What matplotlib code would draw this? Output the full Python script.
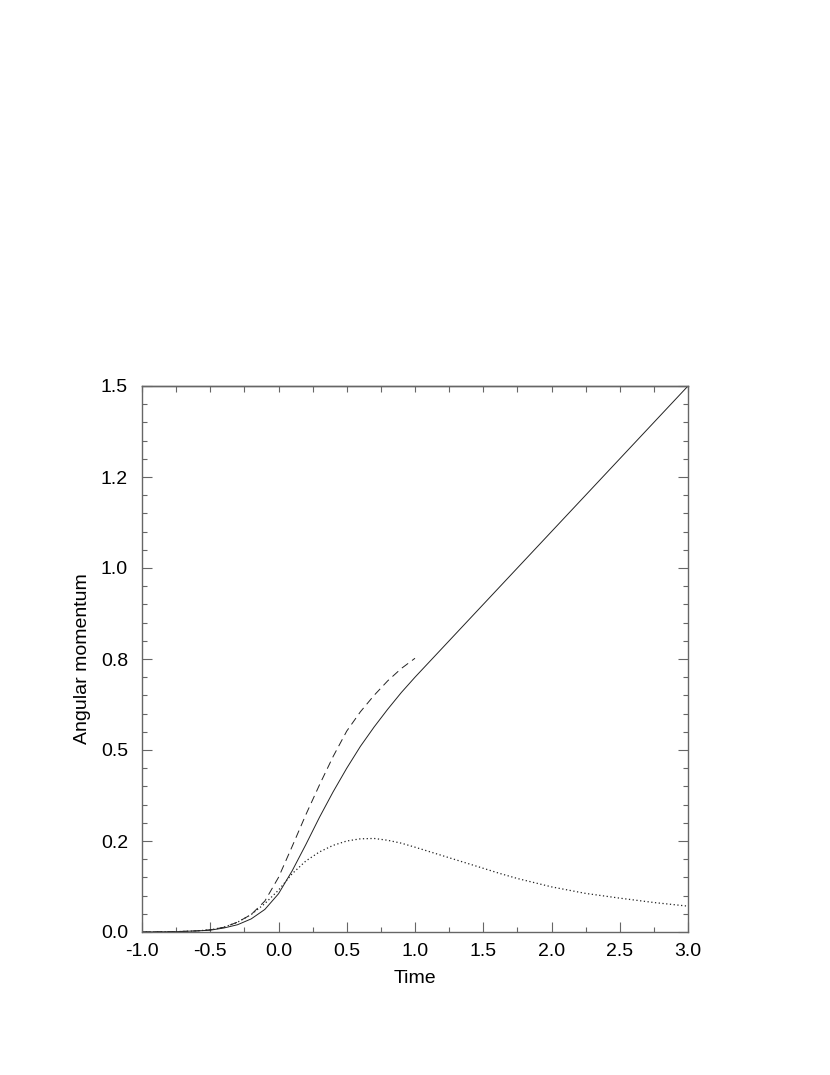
import matplotlib
matplotlib.use("Agg")
import matplotlib.pyplot as plt
from matplotlib.ticker import MultipleLocator, FormatStrFormatter

plt.rcParams['font.family'] = ['Liberation Sans', 'DejaVu Sans']

# Solid curve
t_solid = [-1.0, -0.75, -0.6, -0.5, -0.4, -0.3, -0.2, -0.1, 0.0, 0.1, 0.2, 0.3, 0.4, 0.5,
           0.6, 0.7, 0.8, 0.9, 1.0, 1.1, 3.0]
v_solid = [0.0, 0.001, 0.003, 0.005, 0.011, 0.02, 0.036, 0.062, 0.105, 0.168, 0.24, 0.315,
           0.385, 0.45, 0.51, 0.563, 0.612, 0.658, 0.70, 0.74, 1.5]

# Dashed curve
t_dash = [-1.0, -0.75, -0.6, -0.5, -0.4, -0.3, -0.2, -0.1, 0.0, 0.1, 0.2, 0.3, 0.4, 0.5,
          0.6, 0.7, 0.8, 0.9, 1.0]
v_dash = [0.0, 0.001, 0.003, 0.006, 0.013, 0.027, 0.048, 0.085, 0.15, 0.235, 0.322, 0.404,
          0.482, 0.552, 0.605, 0.65, 0.69, 0.724, 0.752]

# Dotted curve
t_dot = [-1.0, -0.75, -0.6, -0.5, -0.4, -0.3, -0.2, -0.1, 0.0, 0.1, 0.2, 0.3, 0.4, 0.5,
         0.6, 0.7, 0.8, 0.9, 1.0, 1.13, 1.25, 1.38, 1.5, 1.62, 1.75, 2.0, 2.25, 2.5,
         2.75, 3.0]
v_dot = [0.0, 0.001, 0.003, 0.006, 0.013, 0.027, 0.048, 0.078, 0.115, 0.16, 0.195, 0.22,
         0.238, 0.25, 0.256, 0.257, 0.252, 0.244, 0.233, 0.218, 0.204, 0.189, 0.175,
         0.161, 0.147, 0.124, 0.106, 0.093, 0.081, 0.071]

fig = plt.figure(figsize=(8.3, 10.75), dpi=100)
ax = fig.add_axes([142/830, 1-932/1075, 546/830, 546/1075])

ax.plot(t_solid, v_solid, color='#222222', lw=0.7, ls='-')
ax.plot(t_dash, v_dash, color='#222222', lw=0.7, ls=(0, (8, 5)))
ax.plot(t_dot, v_dot, color='#222222', lw=0.9, ls=(0, (1, 2)))

ax.set_xlim(-1.0, 3.0)
ax.set_ylim(0.0, 1.5)
ax.xaxis.set_major_locator(MultipleLocator(0.5))
ax.xaxis.set_minor_locator(MultipleLocator(0.25))
ax.yaxis.set_major_locator(MultipleLocator(0.25))
ax.yaxis.set_minor_locator(MultipleLocator(0.05))
ax.xaxis.set_major_formatter(FormatStrFormatter('%.1f'))
ax.yaxis.set_major_formatter(FormatStrFormatter('%.1f'))

ax.tick_params(which='both', direction='in', left=True, right=True, bottom=True, top=False,
               color='#666666', width=0.8, labelsize=14)
ax.tick_params(axis='y', pad=10)
ax.tick_params(axis='x', pad=8)
ax.tick_params(which='major', length=7)
ax.tick_params(which='minor', length=3.5)

top = ax.secondary_xaxis('top')
top.xaxis.set_major_locator(MultipleLocator(0.25))
top.xaxis.set_minor_locator(MultipleLocator(10))
top.tick_params(which='both', direction='in', length=4, color='#666666', width=0.8,
                labeltop=False)
for s in top.spines.values():
    s.set_color('#666666')
    s.set_linewidth(1.0)

for s in ax.spines.values():
    s.set_color('#666666')
    s.set_linewidth(1.0)

ax.set_xlabel('Time', fontsize=14, labelpad=7)
ax.set_ylabel('Angular momentum', fontsize=14, labelpad=7)

fig.savefig('out.png', dpi=100)
